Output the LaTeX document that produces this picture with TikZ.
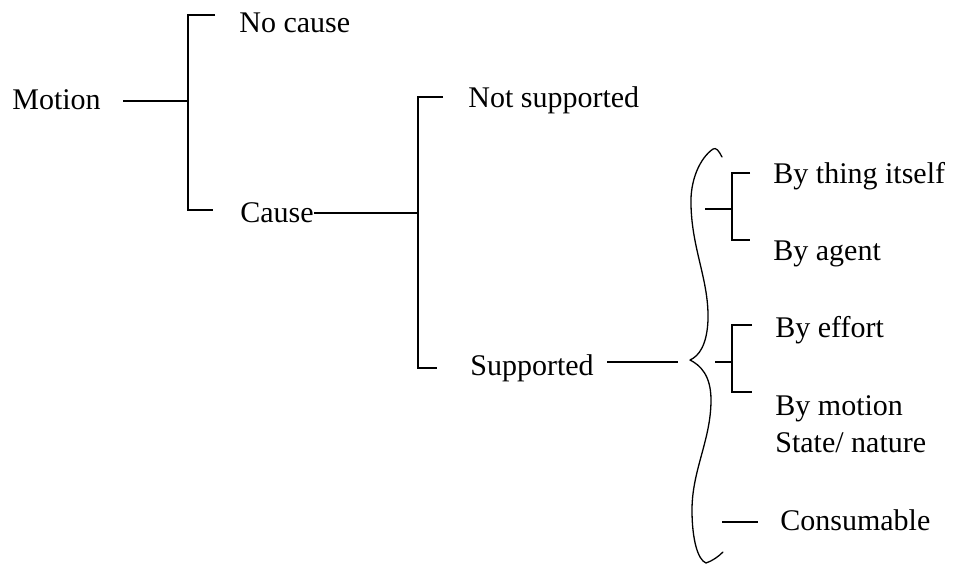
\documentclass[tikz,border=0pt]{standalone}
\usepackage{fontspec}
\setmainfont{Liberation Serif}
\begin{document}
\begin{tikzpicture}[x=0.5pt,y=-0.5pt,
  lbl/.style={anchor=base west, inner sep=0pt, font=\fontsize{15}{18}\selectfont},
  bar/.style={line width=1.25pt, line cap=butt, line join=miter},
  stub/.style={line width=0.65pt},
  brace/.style={line width=0.65pt, line cap=round, line join=round}]
\useasboundingbox (0,0) rectangle (960,564);

% labels
\node[lbl] (motion)  at (12,109)  {Motion};
\node[lbl] (nocause) at (239,32)  {No cause};
\node[lbl] (cause)   at (240,222) {Cause};
\node[lbl] (notsup)  at (468,107) {Not supported};
\node[lbl] (sup)     at (470,375) {Supported};
\node[lbl] (thing)   at (773,183) {By thing itself};
\node[lbl] (agent)   at (773,260) {By agent};
\node[lbl] (effort)  at (775,337) {By effort};
\node[lbl] (bymot)   at (775,415) {By motion};
\node[lbl] (state)   at (775,452) {State/ nature};
\node[lbl] (cons)    at (780,530) {Consumable};

% first split: Motion
\coordinate (m0) at (123,101);
\coordinate (m1) at (188,101);
\coordinate (m1t) at (188,15);
\coordinate (m1b) at (188,210);
\draw[bar] (m0) -- (m1);
\draw[bar] (m1t) ++(27,0) -- (m1t) -- (m1b) -- ++(25,0);

% second split: Cause
\coordinate (c0) at (cause.east |- 0,213);
\coordinate (c1) at (418,213);
\coordinate (c1t) at (418,97);
\coordinate (c1b) at (418,368);
\draw[bar] (c0) -- (c1);
\draw[bar] (c1t) ++(25,0) -- (c1t) -- (c1b) -- ++(19,0);

% Supported to the brace
\coordinate (s0) at (607,362);
\coordinate (s1) at (678,362);
\draw[bar] (s0) -- (s1);

% curly brace
\draw[brace] (722,157) .. controls (719,151) and (716,147) .. (713,149)
  .. controls (700,158) and (690,180) .. (691,205)
  .. controls (692,250) and (709,280) .. (708,320)
  .. controls (707,345) and (699,356) .. (690,360)
  .. controls (700,365) and (711,375) .. (711,400)
  .. controls (711,440) and (692,470) .. (692,510)
  .. controls (692,540) and (698,560) .. (706,563)
  .. controls (712,561) and (718,557) .. (723,552);

% By thing itself / By agent
\coordinate (t0) at (705,209);
\coordinate (t1) at (732,209);
\coordinate (t1t) at (732,173);
\coordinate (t1b) at (732,240);
\draw[stub] (t0) -- (t1);
\draw[bar] (t1t) ++(18,0) -- (t1t) -- (t1b) -- ++(18,0);

% By effort / By motion
\coordinate (e0) at (715,362);
\coordinate (e1) at (732,362);
\coordinate (e1t) at (732,325);
\coordinate (e1b) at (732,392);
\draw[stub] (e0) -- (e1);
\draw[bar] (e1t) ++(20,0) -- (e1t) -- (e1b) -- ++(20,0);

% Consumable
\coordinate (k0) at (722,522);
\coordinate (k1) at (758,522);
\draw[stub] (k0) -- (k1);
\end{tikzpicture}
\end{document}
